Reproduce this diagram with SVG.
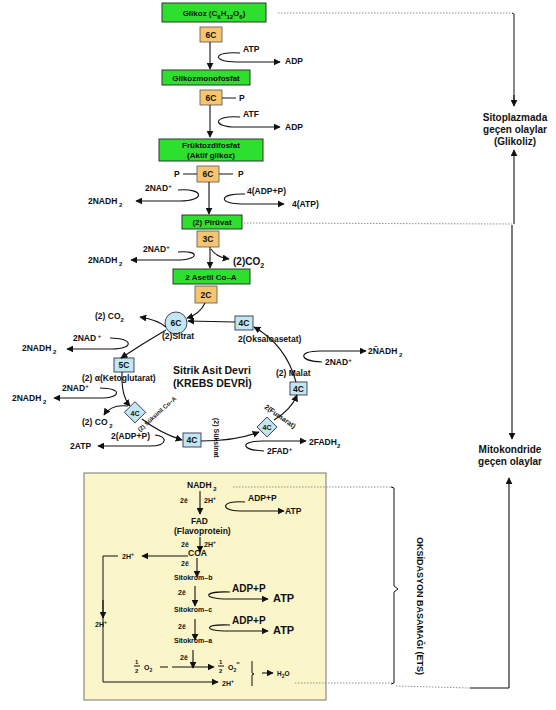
<svg xmlns="http://www.w3.org/2000/svg" width="556" height="710" viewBox="0 0 556 710">
<defs>
<marker id="ah" viewBox="0 0 10 10" refX="9" refY="5" markerWidth="7" markerHeight="7" markerUnits="userSpaceOnUse" orient="auto"><path d="M0,0 L10,5 L0,10 z" fill="#111"/></marker>
<style>
text{font-family:"Liberation Sans",Arial,sans-serif;fill:#111;font-weight:bold}
.t{font-size:8.5px}
.s{font-size:7px}
.g{font-size:8px;text-anchor:middle}
.r{font-size:10px;text-anchor:middle}
.gb{fill:#2EE02E;stroke:#333;stroke-width:1}
.ob{fill:#F6C56E;stroke:#555;stroke-width:0.8}
.bb{fill:#C3E7F0;stroke:#335;stroke-width:0.9}
.ln{fill:none;stroke:#111;stroke-width:1}
.ar{fill:none;stroke:#111;stroke-width:1.1;marker-end:url(#ah)}
.dt{fill:none;stroke:#777;stroke-width:0.8;stroke-dasharray:1.5 1.5}
</style>
</defs>
<rect width="556" height="710" fill="#fff"/>

<g id="ets-box"><rect x="84" y="473" width="242" height="227" fill="#FBF6CA" stroke="#666" stroke-width="0.9"/></g>

<g id="glikoz"><rect class="gb" x="162" y="3" width="104" height="19"/><text class="g" x="214" y="16">Glikoz (C<tspan font-size="6" dy="3">6</tspan><tspan dy="-3">H</tspan><tspan font-size="6" dy="3">12</tspan><tspan dy="-3">O</tspan><tspan font-size="6" dy="3">6</tspan><tspan dy="-3">)</tspan></text></g>
<g id="c6a"><rect class="ob" x="200" y="27" width="22" height="15"/><text class="t" x="211" y="38" text-anchor="middle">6C</text></g>
<g id="glikozmono"><rect class="gb" x="162" y="70" width="88" height="15"/><text class="g" x="206" y="81">Glikozmonofosfat</text></g>
<g id="c6b"><rect class="ob" x="200" y="90" width="22" height="15"/><text class="t" x="211" y="101" text-anchor="middle">6C</text><line class="ln" x1="222" y1="98" x2="236" y2="98"/><text class="t" x="239" y="101">P</text></g>
<g id="fruktoz"><rect class="gb" x="159" y="139" width="104" height="22"/><text class="g" x="211" y="148">Früktozdifosfat</text><text class="g" x="211" y="158">(Aktif glikoz)</text></g>
<g id="c6c"><rect class="ob" x="197" y="166" width="22" height="16"/><text class="t" x="208" y="177" text-anchor="middle">6C</text><text class="t" x="174" y="177">P</text><line class="ln" x1="183" y1="174" x2="197" y2="174"/><line class="ln" x1="219" y1="174" x2="233" y2="174"/><text class="t" x="238" y="177">P</text></g>
<g id="piruvat"><rect class="gb" x="182" y="215" width="60" height="14"/><text class="g" x="212" y="225">(2) Pirüvat</text></g>
<g id="c3"><rect class="ob" x="197" y="231" width="22" height="16"/><text class="t" x="208" y="242" text-anchor="middle">3C</text></g>
<g id="asetil"><rect class="gb" x="173" y="269" width="77" height="15"/><text class="g" x="211" y="280">2 Asetil Co–A</text></g>
<g id="c2"><rect class="ob" x="195" y="286" width="22" height="17"/><text class="t" x="206" y="298" text-anchor="middle">2C</text></g>

<g id="sitrat"><circle class="bb" cx="176" cy="323" r="11"/><text class="t" x="176" y="326" text-anchor="middle">6C</text><text class="t" x="162" y="339">(2)Sitrat</text></g>
<g id="ketoglutarat"><rect class="bb" x="114" y="358" width="20" height="14"/><text class="t" x="124" y="368" text-anchor="middle">5C</text><text class="t" x="82" y="381">(2) α(Ketoglutarat)</text></g>
<g id="suksinilcoa"><rect class="bb" x="127" y="405" width="15" height="15" transform="rotate(45 135 413)"/><text class="s" x="135" y="415.5" text-anchor="middle">4C</text><text font-size="6" x="140" y="432" transform="rotate(-42 140 432)">(2) Süksinil Co–A</text></g>
<g id="suksinat"><rect class="bb" x="183" y="433" width="18" height="14"/><text class="t" x="192" y="443" text-anchor="middle">4C</text><text class="s" x="214" y="418" transform="rotate(90 214 418)">(2) Süksinat</text></g>
<g id="fumarat"><rect class="bb" x="260" y="420" width="14" height="14" transform="rotate(45 267 427)"/><text class="s" x="267" y="429.5" text-anchor="middle">4C</text><text class="s" x="264" y="408" transform="rotate(35 264 408)">2(Fumarat)</text></g>
<g id="malat"><rect class="bb" x="290" y="382" width="17" height="13"/><text class="t" x="298.5" y="392" text-anchor="middle">4C</text><text class="t" x="276" y="376">(2) Malat</text></g>
<g id="oksaloasetat"><rect class="bb" x="235" y="316" width="18" height="14"/><text class="t" x="244" y="326" text-anchor="middle">4C</text><text class="t" x="238" y="342">2(Oksaloasetat)</text></g>
<g id="krebs-title"><text font-size="10.5" x="173" y="374">Sitrik Asit Devri</text><text font-size="10.5" x="173" y="387">(KREBS DEVRİ)</text></g>

<g id="labels">
<text class="t" x="243" y="52">ATP</text><text class="t" x="285" y="64">ADP</text>
<text class="t" x="243" y="117">ATF</text><text class="t" x="285" y="130">ADP</text>
<text class="t" x="145" y="191">2NAD<tspan font-size="6" dy="-3">+</tspan></text>
<text class="t" x="88" y="204">2NADH<tspan font-size="6" dy="3"> 2</tspan></text>
<text class="t" x="247" y="194">4(ADP+P)</text><text class="t" x="292" y="207">4(ATP)</text>
<text class="t" x="143" y="252">2NAD<tspan font-size="6" dy="-3">+</tspan></text>
<text class="t" x="88" y="263">2NADH<tspan font-size="6" dy="3"> 2</tspan></text>
<text font-size="10" x="233" y="265">(2)CO<tspan font-size="7" dy="3">2</tspan></text>
<text class="t" x="95" y="319">(2) CO<tspan font-size="6" dy="3">2</tspan></text>
<text class="t" x="73" y="341">2NAD<tspan font-size="6" dy="-3"> +</tspan></text>
<text class="t" x="22" y="351">2NADH<tspan font-size="6" dy="3"> 2</tspan></text>
<text class="t" x="62" y="391">2NAD<tspan font-size="6" dy="-3">+</tspan></text>
<text class="t" x="12" y="401">2NADH<tspan font-size="6" dy="3"> 2</tspan></text>
<text class="t" x="82" y="425">(2) CO<tspan font-size="6" dy="3"> 2</tspan></text>
<text class="t" x="111" y="439">2(ADP+P)</text>
<text class="t" x="70" y="449">2ATP</text>
<text class="t" x="325" y="365">2NAD<tspan font-size="6" dy="-3">+</tspan></text>
<text class="t" x="368" y="354">2ÑADH<tspan font-size="6" dy="3"> 2</tspan></text>
<text class="t" x="267" y="454">2FAD<tspan font-size="6" dy="-3">+</tspan></text>
<text class="t" x="309" y="445">2FADH<tspan font-size="6" dy="3">2</tspan></text>
<text class="r" x="515" y="121">Sitoplazmada</text><text class="r" x="515" y="133">geçen olaylar</text><text class="r" x="515" y="145">(Glikoliz)</text>
<text class="r" x="510" y="453">Mitokondride</text><text class="r" x="510" y="465">geçen olaylar</text>
<text font-size="9" x="417" y="537" transform="rotate(90 417 537)">OKSİDASYON BASAMAĞI (ETS)</text>
</g>

<g id="ets-labels">
<text class="t" x="187" y="488">NADH<tspan font-size="6" dy="3"> 2</tspan></text>
<text class="s" x="180" y="503">2ē</text><text class="s" x="204" y="503">2H<tspan font-size="5" dy="-3">+</tspan></text>
<text class="t" x="248" y="501">ADP+P</text><text class="t" x="285" y="514">ATP</text>
<text class="t" x="191" y="524">FAD</text><text class="t" x="174" y="534">(Flavoprotein)</text>
<text class="s" x="181" y="547">2ē</text><text class="s" x="204" y="547">2H<tspan font-size="5" dy="-3">+</tspan></text>
<text class="t" x="188" y="556">COA</text>
<text class="s" x="122" y="559">2H<tspan font-size="5" dy="-3">+</tspan></text>
<text class="s" x="181" y="566">2ē</text>
<text class="s" x="174" y="580">Sitokrom–b</text>
<text class="s" x="178" y="595">2ē</text>
<text font-size="10" x="232" y="592">ADP+P</text><text font-size="11" x="273" y="602">ATP</text>
<text class="s" x="174" y="612">Sitokrom–c</text>
<text class="s" x="178" y="629">2ē</text>
<text font-size="10" x="232" y="624">ADP+P</text><text font-size="11" x="273" y="634">ATP</text>
<text class="s" x="174" y="643">Sitokrom–a</text>
<text class="s" x="95" y="627">2H<tspan font-size="5" dy="-3">+</tspan></text>
<text class="s" x="180" y="660">2ē</text>
<text font-size="6" x="135" y="664">1</text><line class="ln" x1="134" y1="666" x2="140" y2="666" stroke-width="0.6"/><text font-size="6" x="135" y="673">2</text>
<text class="s" x="144" y="670">O<tspan font-size="5" dy="2">2</tspan></text>
<text font-size="6" x="219" y="664">1</text><line class="ln" x1="218" y1="666" x2="224" y2="666" stroke-width="0.6"/><text font-size="6" x="219" y="673">2</text>
<text class="s" x="228" y="670">O<tspan font-size="5" dy="2">2</tspan><tspan font-size="6" dy="-7">=</tspan></text>
<text class="s" x="222" y="686">2H<tspan font-size="5" dy="-3">+</tspan></text>
<text font-size="6.5" x="277" y="676">H<tspan font-size="5" dy="2">2</tspan><tspan dy="-2">O</tspan></text>
</g>

<g id="connectors">
<line class="ar" x1="210" y1="42" x2="210" y2="69"/>
<path class="ar" d="M240,53 C212,51 212,62 236,62 L280,62"/>
<line class="ar" x1="210" y1="105" x2="210" y2="137"/>
<path class="ar" d="M240,117 C212,115 212,127 236,127 L280,127"/>
<line class="ar" x1="209" y1="182" x2="209" y2="214"/>
<path class="ar" d="M178,190 C205,188 205,201 180,201 L136,201"/>
<path class="ar" d="M245,194 C218,193 218,204 242,204 L284,204"/>
<line class="ar" x1="210" y1="247" x2="210" y2="268"/>
<path class="ar" d="M178,252 C200,250 200,260 176,260 L131,260"/>
<path class="ar" d="M211,249 Q216,257 229,259"/>
<path class="ar" d="M205,303 Q200,314 187,318"/>
<path class="ar" d="M166,330 Q142,344 121,358"/>
<path class="ar" d="M122,372 Q121,396 130,406"/>
<path class="ar" d="M142,419 Q160,433 182,440"/>
<path class="ar" d="M201,441 Q236,441 259,432"/>
<path class="ar" d="M274,420 Q291,410 297,395"/>
<path class="ar" d="M296,382 Q286,345 254,327"/>
<line class="ar" x1="235" y1="322" x2="188" y2="321"/>
<path class="ar" d="M166,327 Q158,320 140,317"/>
<path class="ar" d="M110,338 C134,338 134,349 112,349 L67,349"/>
<path class="ar" d="M100,388 C122,388 122,398 100,398 L54,398"/>
<path class="ar" d="M128,406 Q111,404 104,415"/>
<path class="ar" d="M155,435 C168,436 168,446 150,446 L98,446"/>
<path class="ar" d="M322,362 C298,361 298,351 320,351 L366,351"/>
<path class="ar" d="M264,451 C240,450 240,441 262,441 L306,441"/>
<line class="ar" x1="200" y1="491" x2="200" y2="514"/>
<path class="ar" d="M245,502 C220,500 220,511 240,511 L284,511"/>
<line class="ar" x1="200" y1="537" x2="200" y2="552"/>
<path class="ar" d="M188,556 L142,556"/>
<path class="ln" d="M118,556 L103,556 L103,682"/>
<line class="ar" x1="103" y1="600" x2="103" y2="618"/>
<line class="ar" x1="103" y1="682" x2="218" y2="682"/>
<line class="ar" x1="197" y1="558" x2="197" y2="577"/>
<line class="ar" x1="195" y1="586" x2="195" y2="606"/>
<path class="ar" d="M230,592 C202,591 202,599 228,599 L268,599"/>
<line class="ar" x1="195" y1="619" x2="195" y2="640"/>
<path class="ar" d="M230,625 C203,624 203,631 228,631 L268,631"/>
<line class="ar" x1="193" y1="650" x2="193" y2="668"/>
<line class="ln" x1="160" y1="667" x2="168" y2="667"/>
<line class="ar" x1="172" y1="667" x2="214" y2="667"/>
<path class="ln" d="M252,661 L252,673 L254,674 L252,675 L252,686" stroke-width="1.3"/>
<line class="ar" x1="262" y1="673" x2="273" y2="673" stroke-width="0.8"/>
<path class="dt" d="M278,13 L512,13"/>
<path class="ln" d="M512,13 L514,14 L514,105" /><line class="ar" x1="514" y1="95" x2="514" y2="106"/>
<line class="ar" x1="514" y1="224" x2="514" y2="150"/>
<path class="dt" d="M244,223 L512,224"/>
<line class="ar" x1="512" y1="225" x2="512" y2="439"/>
<path class="dt" d="M233,487 L393,487"/>
<path class="ln" d="M391,487 L394,488 L394,586 L398,589 L394,592 L394,683 L391,684"/>
<path class="dt" d="M295,683 L392,683"/>
<path class="dt" d="M396,686 L470,688"/>
<path class="ln" d="M470,688 L509,688"/>
<line class="ar" x1="509" y1="688" x2="509" y2="478"/>
</g>
</svg>
